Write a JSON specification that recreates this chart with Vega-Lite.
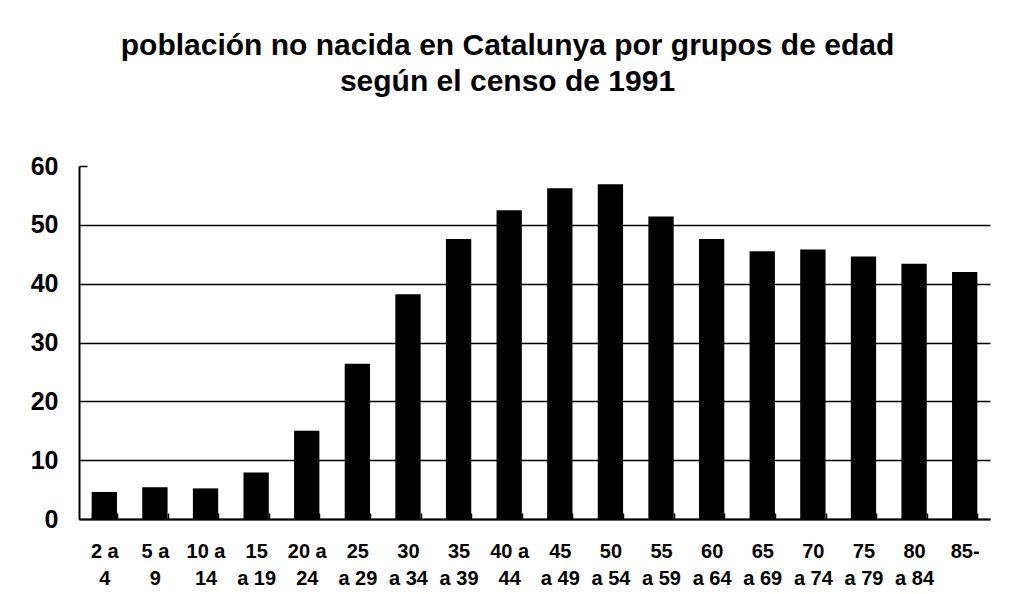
{
  "$schema": "https://vega.github.io/schema/vega-lite/v6.json",
  "autosize": {"type": "none"},
  "padding": {"left": 79, "top": 166, "right": 22, "bottom": 75},
  "width": 911,
  "height": 353,
  "background": "white",
  "title": {
    "text": ["población no nacida en Catalunya por grupos de edad", "según el censo de 1991"],
    "anchor": "middle",
    "frame": "group",
    "dx": -27,
    "offset": 57,
    "font": "Liberation Sans",
    "fontSize": 30,
    "fontWeight": "bold",
    "lineHeight": 36,
    "color": "black"
  },
  "data": {
    "values": [
      {"grupo": "2 a\n4", "valor": 4.6},
      {"grupo": "5 a\n9", "valor": 5.4},
      {"grupo": "10 a\n14", "valor": 5.2},
      {"grupo": "15\na 19", "valor": 7.9},
      {"grupo": "20 a\n24", "valor": 15.0},
      {"grupo": "25\na 29", "valor": 26.4},
      {"grupo": "30\na 34", "valor": 38.2},
      {"grupo": "35\na 39", "valor": 47.6},
      {"grupo": "40 a\n44", "valor": 52.5},
      {"grupo": "45\na 49", "valor": 56.2},
      {"grupo": "50\na 54", "valor": 56.9},
      {"grupo": "55\na 59", "valor": 51.4},
      {"grupo": "60\na 64", "valor": 47.6},
      {"grupo": "65\na 69", "valor": 45.5},
      {"grupo": "70\na 74", "valor": 45.8},
      {"grupo": "75\na 79", "valor": 44.6},
      {"grupo": "80\na 84", "valor": 43.4},
      {"grupo": "85-", "valor": 42.0}
    ]
  },
  "mark": {"type": "bar", "color": "black"},
  "encoding": {
    "x": {
      "field": "grupo",
      "type": "nominal",
      "sort": null,
      "title": null,
      "scale": {"paddingInner": 0.5, "paddingOuter": 0.25},
      "axis": {
        "labelAngle": 0,
        "labelExpr": "split(datum.label, '\\n')",
        "labelFont": "Liberation Sans",
        "labelFontSize": 20,
        "labelFontWeight": "bold",
        "labelColor": "black",
        "labelBaseline": "top",
        "labelLineHeight": 27,
        "labelPadding": 28,
        "tickBand": "extent",
        "tickSize": -6,
        "tickColor": "black",
        "tickWidth": 1.5,
        "domainColor": "black",
        "domainWidth": 2,
        "grid": false
      }
    },
    "y": {
      "field": "valor",
      "type": "quantitative",
      "title": null,
      "scale": {"domain": [0, 60], "nice": false},
      "axis": {
        "values": [0, 10, 20, 30, 40, 50, 60],
        "ticks": false,
        "labelFont": "Liberation Sans",
        "labelFontSize": 25,
        "labelFontWeight": "bold",
        "labelColor": "black",
        "labelPadding": 21,
        "domainColor": "black",
        "domainWidth": 2,
        "grid": true,
        "gridColor": "black",
        "gridWidth": 1.5,
        "gridDash": {"condition": {"test": "datum.value == 60", "value": [8, 2000]}, "value": []}
      }
    }
  },
  "config": {"view": {"stroke": null}}
}
